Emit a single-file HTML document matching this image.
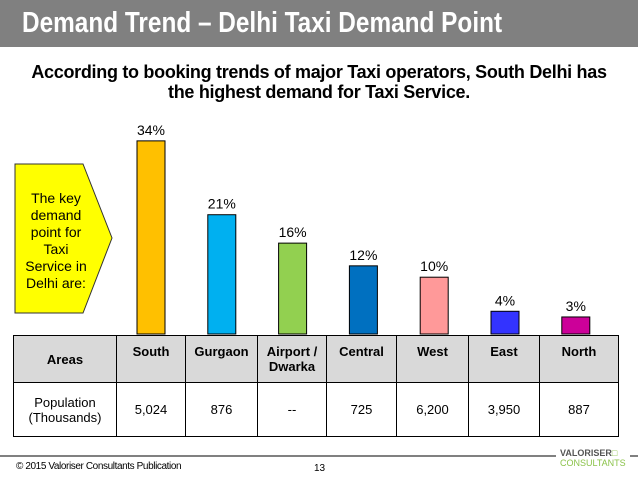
<!DOCTYPE html>
<html><head><meta charset="utf-8"><style>
body{margin:0;width:638px;height:479px;overflow:hidden;background:#fff;font-family:"Liberation Sans",sans-serif;position:relative}
.hdr{position:absolute;left:0;top:0;width:638px;height:47px;background:#808080}
.hdr span{position:absolute;left:22px;top:0;color:#fff;font-weight:bold;font-size:29px;line-height:47px;white-space:nowrap;transform:scaleX(0.84);transform-origin:0 50%}
.sub{position:absolute;left:0;top:62px;width:638px;text-align:center;font-weight:bold;font-size:18px;line-height:20px;letter-spacing:-0.3px}
table{position:absolute;left:13px;top:335px;border-collapse:collapse;font-size:13px}
td{border:1px solid #000;text-align:center;padding:0}
.h td{background:#d9d9d9;font-weight:bold;height:47px;vertical-align:top;padding-top:8px;box-sizing:border-box}
.h td.a{vertical-align:middle;padding-top:0}
.p td{height:53px}
.foot{position:absolute;left:0;top:455px;width:638px;height:2px;background:#808080}
</style></head><body>
<div class="hdr"><span>Demand Trend – Delhi Taxi Demand Point</span></div>
<div class="sub">According to booking trends of major Taxi operators, South Delhi has<br>the highest demand for Taxi Service.</div>
<svg id="chart" width="638" height="479" style="position:absolute;left:0;top:0">
<polygon points="15,164 83,164 112,238 83,313 15,313" fill="#ffff00" stroke="#333" stroke-width="1"/>
<text font-family="Liberation Sans" font-size="14" text-anchor="middle">
<tspan x="56" y="203">The key</tspan><tspan x="56" y="220">demand</tspan><tspan x="56" y="237">point for</tspan><tspan x="56" y="254">Taxi</tspan><tspan x="56" y="271">Service in</tspan><tspan x="56" y="288">Delhi are:</tspan></text>
</svg>
<table>
<tr class="h"><td class="a" style="width:103px">Areas</td><td style="width:69px">South</td><td style="width:72px">Gurgaon</td><td style="width:69px">Airport /<br>Dwarka</td><td style="width:70px">Central</td><td style="width:72px">West</td><td style="width:71px">East</td><td style="width:79px">North</td></tr>
<tr class="p"><td>Population<br>(Thousands)</td><td>5,024</td><td>876</td><td>--</td><td>725</td><td>6,200</td><td>3,950</td><td>887</td></tr>
</table>
<div class="foot"></div>
<div style="position:absolute;left:16px;top:461px;font-size:10px;letter-spacing:-0.4px">© 2015 Valoriser Consultants Publication</div>
<div style="position:absolute;left:314px;top:463px;font-size:10px">13</div>
<div style="position:absolute;left:556px;top:448px;background:#fff;padding:0 4px;font-size:9px;font-weight:bold;line-height:10px;color:#555">VALORISER<span style="color:#8bc34a">□</span><br><span style="color:#8bc34a;font-weight:normal">CONSULTANTS</span></div>
<script>
const categories=["South","Gurgaon","Airport / Dwarka","Central","West","East","North"];
const values=[34,21,16,12,10,4,3];
const colors=["#ffc000","#00b0f0","#92d050","#0070c0","#ff9999","#3333ff","#cc0099"];
const svg=document.getElementById('chart');
const NS="http://www.w3.org/2000/svg";
const base=334,ppu=5.68,x0=137,step=70.8,bw=28;
function y(v){return base-v*ppu;}
values.forEach((v,i)=>{
 const r=document.createElementNS(NS,'rect');
 r.setAttribute('x',x0+i*step);r.setAttribute('y',y(v));r.setAttribute('width',bw);r.setAttribute('height',base-y(v));
 r.setAttribute('fill',colors[i]);r.setAttribute('stroke','#000');r.setAttribute('stroke-width','1');
 
 
 svg.appendChild(r);
 const t=document.createElementNS(NS,'text');
 t.setAttribute('x',x0+i*step+bw/2);t.setAttribute('y',y(v)-6);t.setAttribute('text-anchor','middle');
 t.setAttribute('font-family','Liberation Sans');t.setAttribute('font-size','14');
 t.textContent=v+'%';
 
 
 svg.appendChild(t);
});
</script>
</body></html>
